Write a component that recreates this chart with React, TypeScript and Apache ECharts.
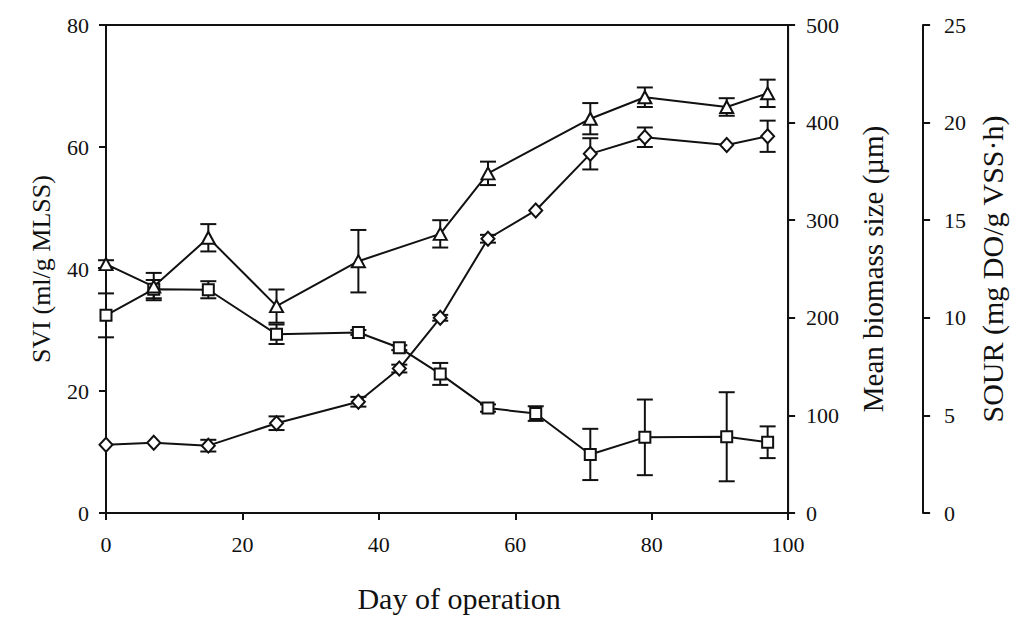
import React, { useEffect, useRef } from "react";
import * as echarts from "echarts";

// Sampling days
const days = [0, 7, 15, 25, 37, 43, 49, 56, 63, 71, 79, 91, 97];
const sourDays = [0, 7, 15, 25, 37, 49, 56, 71, 79, 91, 97];

// SVI (ml/g MLSS), squares
const svi = [32.4, 36.7, 36.6, 29.3, 29.6, 27.1, 22.8, 17.2, 16.3, 9.6, 12.4, 12.5, 11.6];
const sviErr = [3.6, 1.5, 1.4, 1.6, 0.4, 0.4, 1.8, 0.6, 1.2, 4.2, 6.2, 7.3, 2.6];

// Mean biomass size (µm), diamonds
const size = [70, 72, 69, 92, 114, 148, 200, 281, 310, 368, 385, 377, 386];
const sizeErr = [0, 0, 6, 7, 5, 4, 3, 4, 0, 16, 10, 0, 16];

// SOUR (mg DO/g VSS·h), triangles
const sour = [12.75, 11.6, 14.1, 10.6, 12.9, 14.3, 17.4, 20.2, 21.3, 20.8, 21.5];
const sourErr = [0.2, 0.7, 0.7, 0.85, 1.6, 0.7, 0.6, 0.8, 0.5, 0.45, 0.7];

const FONT = "'Liberation Serif', 'Times New Roman', serif";
const INK = "#111";

function errorSeries(xs: number[], ys: number[], es: number[], yAxisIndex: number) {
  return {
    type: "custom",
    yAxisIndex,
    z: 1,
    silent: true,
    data: xs.map((x, i) => [x, ys[i], es[i]]),
    renderItem: (_p: any, api: any) => {
      const x = api.value(0);
      const y = api.value(1);
      const e = api.value(2);
      if (!e) return { type: "group", children: [] };
      const top = api.coord([x, y + e]);
      const bot = api.coord([x, y - e]);
      const cap = 8;
      const style = { stroke: INK, lineWidth: 2 };
      return {
        type: "group",
        children: [
          { type: "line", shape: { x1: top[0], y1: top[1], x2: bot[0], y2: bot[1] }, style },
          { type: "line", shape: { x1: top[0] - cap, y1: top[1], x2: top[0] + cap, y2: top[1] }, style },
          { type: "line", shape: { x1: bot[0] - cap, y1: bot[1], x2: bot[0] + cap, y2: bot[1] }, style },
        ],
      };
    },
  };
}

function lineSeries(xs: number[], ys: number[], yAxisIndex: number, symbol: string, symbolSize: any) {
  return {
    type: "line",
    yAxisIndex,
    z: 3,
    data: xs.map((x, i) => [x, ys[i]]),
    symbol,
    symbolSize,
    showSymbol: true,
    lineStyle: { color: INK, width: 2 },
    itemStyle: { color: "#fff", borderColor: INK, borderWidth: 2 },
  };
}

const axisLabel = (margin: number) => ({
  color: INK,
  fontFamily: FONT,
  fontSize: 22,
  margin,
});

const nameStyle = (fontSize: number) => ({ color: INK, fontFamily: FONT, fontSize });

export default function App() {
  const ref = useRef<HTMLDivElement>(null);

  useEffect(() => {
    if (!ref.current) return;
    const chart = echarts.init(ref.current, undefined, { renderer: "svg" });
    chart.setOption({
      animation: false,
      backgroundColor: "#fff",
      grid: {
        left: 106,
        right: 223,
        top: 25,
        bottom: 102,
        show: true,
        borderColor: INK,
        borderWidth: 2,
      },
      xAxis: {
        type: "value",
        min: 0,
        max: 100,
        interval: 20,
        name: "Day of operation",
        nameLocation: "middle",
        nameGap: 70,
        nameTextStyle: { ...nameStyle(30), padding: [0, 0, 0, 24] },
        axisLine: { lineStyle: { color: INK, width: 2 } },
        axisTick: { show: true, length: 7, lineStyle: { color: INK, width: 2 } },
        axisLabel: axisLabel(20),
        splitLine: { show: false },
      },
      yAxis: [
        {
          type: "value",
          position: "left",
          min: 0,
          max: 80,
          interval: 20,
          name: "SVI (ml/g MLSS)",
          nameLocation: "middle",
          nameGap: 52,
          nameTextStyle: nameStyle(26),
          axisLine: { show: true, lineStyle: { color: INK, width: 2 } },
          axisTick: { show: true, length: 7, lineStyle: { color: INK, width: 2 } },
          axisLabel: axisLabel(17),
          splitLine: { show: false },
        },
        {
          type: "value",
          position: "right",
          min: 0,
          max: 500,
          interval: 100,
          name: "Mean biomass size (µm)",
          nameLocation: "middle",
          nameGap: 70,
          nameTextStyle: nameStyle(29),
          axisLine: { show: true, lineStyle: { color: INK, width: 2 } },
          axisTick: { show: true, length: 7, lineStyle: { color: INK, width: 2 } },
          axisLabel: axisLabel(18),
          splitLine: { show: false },
        },
        {
          type: "value",
          position: "right",
          offset: 135,
          min: 0,
          max: 25,
          interval: 5,
          name: "SOUR (mg DO/g VSS·h)",
          nameLocation: "middle",
          nameGap: 48,
          nameTextStyle: nameStyle(30),
          axisLine: { show: true, lineStyle: { color: INK, width: 2 } },
          axisTick: { show: true, length: 7, lineStyle: { color: INK, width: 2 } },
          axisLabel: axisLabel(21),
          splitLine: { show: false },
        },
      ],
      series: [
        errorSeries(days, svi, sviErr, 0),
        errorSeries(days, size, sizeErr, 1),
        errorSeries(sourDays, sour, sourErr, 2),
        lineSeries(days, svi, 0, "rect", 11),
        lineSeries(days, size, 1, "diamond", [13, 14]),
        lineSeries(sourDays, sour, 2, "triangle", [13, 12]),
      ],
    });
    return () => chart.dispose();
  }, []);

  return (
    <div
      ref={ref}
      style={{ position: "fixed", left: 0, top: 0, width: 1015, height: 618, background: "#fff" }}
    />
  );
}
